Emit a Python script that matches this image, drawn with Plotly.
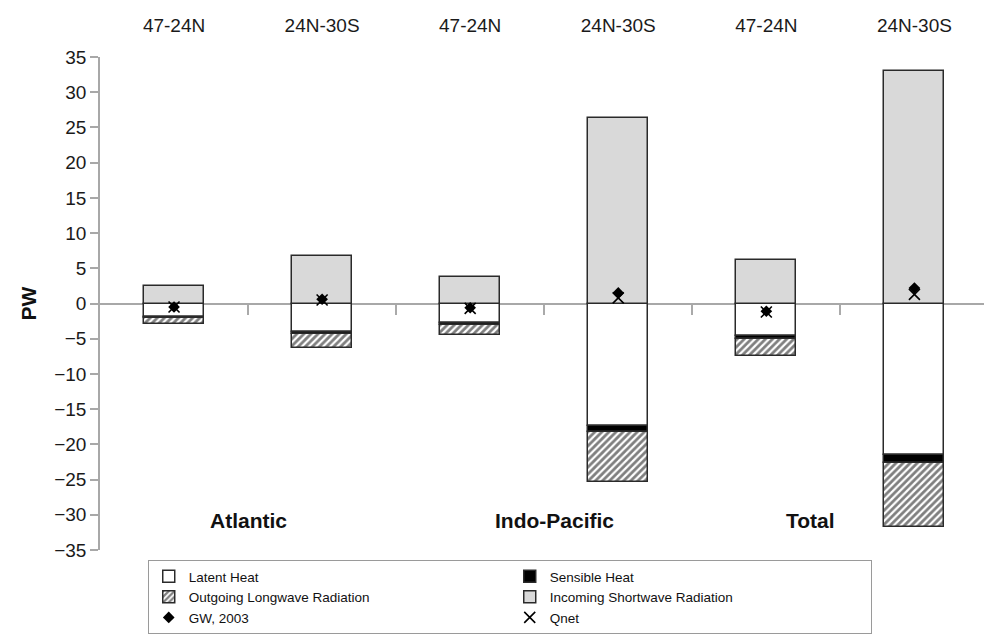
import plotly.graph_objects as go

# ---- data ----
positions = [0, 1, 2, 3, 4, 5]
lat_labels = ["47-24N", "24N-30S", "47-24N", "24N-30S", "47-24N", "24N-30S"]
basins = ["Atlantic", "Indo-Pacific", "Total"]
basin_pos = [0.5, 2.57, 4.3]

latent = [-1.9, -4.1, -2.7, -17.4, -4.6, -21.5]
sensible = [-0.15, -0.2, -0.35, -0.9, -0.5, -1.1]
longwave = [-0.9, -2.0, -1.4, -7.1, -2.3, -9.1]
shortwave = [2.5, 6.7, 3.7, 26.3, 6.2, 33.0]
gw2003 = [-0.5, 0.6, -0.6, 1.5, -1.1, 2.2]
qnet = [-0.5, 0.5, -0.7, 0.8, -1.2, 1.3]

boundaries = [0.5, 1.5, 2.5, 3.5, 4.5]
y_ticks = list(range(-35, 40, 5))

FONT = "Liberation Sans, Arial, sans-serif"
EDGE = dict(color="#2a2a2a", width=1.5)
BW = 0.405

fig = go.Figure()
fig.add_trace(go.Bar(x=positions, y=latent, name="Latent Heat", width=BW,
                     marker=dict(color="white", line=EDGE)))
fig.add_trace(go.Bar(x=positions, y=sensible, name="Sensible Heat", width=BW,
                     marker=dict(color="black", line=EDGE)))
fig.add_trace(go.Bar(x=positions, y=longwave, name="Outgoing Longwave Radiation", width=BW,
                     marker=dict(color="white", line=EDGE,
                                 pattern=dict(shape="/", fgcolor="black", bgcolor="white",
                                              size=5, solidity=0.55))))
fig.add_trace(go.Bar(x=positions, y=shortwave, name="Incoming Shortwave Radiation", width=BW,
                     marker=dict(color="#d9d9d9", line=EDGE)))
fig.add_trace(go.Scatter(x=positions, y=gw2003, name="GW, 2003", mode="markers",
                         marker=dict(symbol="diamond", size=9, color="black")))
fig.add_trace(go.Scatter(x=positions, y=qnet, name="Qnet", mode="markers",
                         marker=dict(symbol="x-thin", size=11, color="black",
                                     line=dict(color="black", width=1.6))))
# invisible helper trace for the top label axis
fig.add_trace(go.Scatter(x=positions, y=qnet, xaxis="x2", mode="markers",
                         marker=dict(opacity=0), showlegend=False, hoverinfo="skip"))

for name, xp in zip(basins, basin_pos):
    fig.add_annotation(x=xp, y=-30.8, xref="x", yref="y", text=f"<b>{name}</b>",
                       showarrow=False, font=dict(family=FONT, size=21, color="#111"))

xr = [-0.5, 5.47]
fig.update_layout(
    width=984, height=638,
    margin=dict(l=100, r=0, t=57, b=88),
    paper_bgcolor="white", plot_bgcolor="white",
    barmode="relative", bargap=0,
    font=dict(family=FONT, color="#1a1a1a"),
    showlegend=True,
    legend=dict(orientation="h", x=0.054, xref="paper", y=1 - 560 / 638, yref="container",
                xanchor="left", yanchor="top",
                entrywidth=316, entrywidthmode="pixels",
                font=dict(family=FONT, size=13.5, color="#111"),
                bordercolor="#9a9a9a", borderwidth=1, bgcolor="white",
                traceorder="normal", itemwidth=30),
    xaxis=dict(range=xr, anchor="free", position=0.5, showgrid=False, zeroline=False,
               showline=False, tickvals=boundaries, ticks="outside", ticklen=10,
               tickcolor="#aaaaaa", tickwidth=1.5, showticklabels=False),
    xaxis2=dict(range=xr, overlaying="x", side="top", anchor="y", showgrid=False,
                zeroline=False, showline=False, tickvals=positions, ticktext=lat_labels,
                ticks="outside", ticklen=16, tickcolor="rgba(0,0,0,0)",
                tickfont=dict(family=FONT, size=19, color="#1a1a1a")),
    yaxis=dict(range=[-35, 35], tickvals=y_ticks, showgrid=False,
               zeroline=True, zerolinecolor="#a8a8a8", zerolinewidth=2,
               showline=True, linecolor="#a8a8a8", linewidth=1.5,
               ticks="outside", ticklen=8, tickcolor="#a8a8a8", tickwidth=1.5,
               tickfont=dict(family=FONT, size=19, color="#1a1a1a"),
               title=dict(text="<b>PW</b>", font=dict(family=FONT, size=21, color="#111"),
                          standoff=12)),
)

fig.write_html("out.html")
